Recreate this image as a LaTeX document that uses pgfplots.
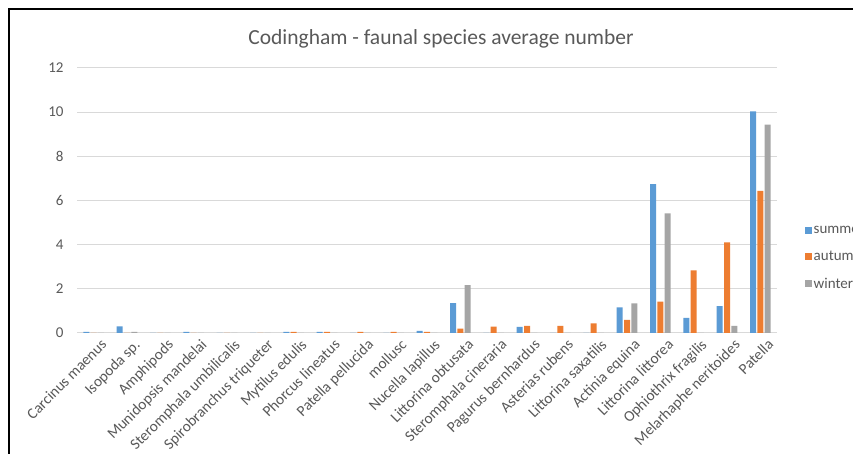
\documentclass[border=0pt]{standalone}
\usepackage{pgfplots}
\pgfplotsset{compat=1.18}
\usepackage{pgfplotstable}
\usepackage{fontspec}
\setmainfont{Carlito}
\definecolor{cSum}{HTML}{5B9BD5}
\definecolor{cAut}{HTML}{ED7D31}
\definecolor{cWin}{HTML}{A5A5A5}
\definecolor{cGrid}{HTML}{D9D9D9}
\definecolor{cText}{HTML}{595959}
\pgfplotstableread{
idx summer autumn winter
0 0.05 0 0
1 0.30 0 0.05
2 0 0 0
3 0.05 0 0
4 0 0 0
5 0 0 0
6 0.05 0.05 0
7 0.05 0.05 0
8 0 0.05 0
9 0 0.05 0
10 0.10 0.05 0
11 1.35 0.20 2.17
12 0 0.29 0
13 0.28 0.32 0
14 0 0.32 0
15 0 0.44 0
16 1.16 0.59 1.34
17 6.74 1.42 5.42
18 0.68 2.84 0
19 1.22 4.10 0.32
20 10.03 6.44 9.43
}\datatable
\begin{document}
\begin{tikzpicture}[x=1pt,y=1pt]
\path[use as bounding box] (0,0) rectangle (853,454);
\fill[white] (0,0) rectangle (853,454);
\draw[black, line width=1.5pt] (9,-2) -- (9,445) -- (856,445);
\node[text=cText, font=\fontsize{21.5}{24}\selectfont, anchor=base] at (441,409) {Codingham - faunal species average number};
\begin{axis}[
  at={(77pt,121pt)}, anchor=south west,
  scale only axis, width=700pt, height=265pt,
  ybar=1.3pt, bar width=6pt,
  xmin=-0.5, xmax=20.5, ymin=0, ymax=12,
  ytick={0,2,...,12},
  xtick=data,
  xticklabels={Carcinus maenus, Isopoda sp., Amphipods, Munidopsis mandelai, Steromphala umbilicalis, Spirobranchus triqueter, Mytilus edulis, Phorcus lineatus, Patella pellucida, mollusc, Nucella lapillus, Littorina obtusata, Steromphala cineraria, Pagurus bernhardus, Asterias rubens, Littorina saxatilis, Actinia equina, Littorina littorea, Ophiothrix fragilis, Melarhaphe neritoides, Patella},
  major tick length=0pt,
  ymajorgrids, grid style={cGrid, line width=1pt},
  axis line style={draw=none},
  axis x line*=bottom,
  x axis line style={draw=cGrid, line width=1pt},
  axis y line*=left,
  y axis line style={draw=none},
  tick label style={text=cText, font=\fontsize{15}{17}\selectfont},
  /pgf/number format/assume math mode=true,
  yticklabel style={anchor=east, xshift=-10pt},
  xticklabel style={rotate=45, anchor=north east, inner sep=1pt, xshift=2pt, yshift=-7pt, font=\fontsize{15.3}{17}\selectfont},
  legend style={draw=none, fill=none, at={(1.035,0.283)}, anchor=west,
    font=\fontsize{15}{17}\selectfont, text=cText, row sep=12pt,
    legend cell align=left},
  legend image code/.code={\fill[#1, draw=none] (0pt,-3.5pt) rectangle (7pt,3.5pt);},
  clip=false,
]
\addplot[fill=cSum, draw=none] table[x=idx, y=summer] {\datatable};
\addplot[fill=cAut, draw=none] table[x=idx, y=autumn] {\datatable};
\addplot[fill=cWin, draw=none] table[x=idx, y=winter] {\datatable};
\legend{summer, autumn, winter}
\end{axis}
\end{tikzpicture}
\end{document}
